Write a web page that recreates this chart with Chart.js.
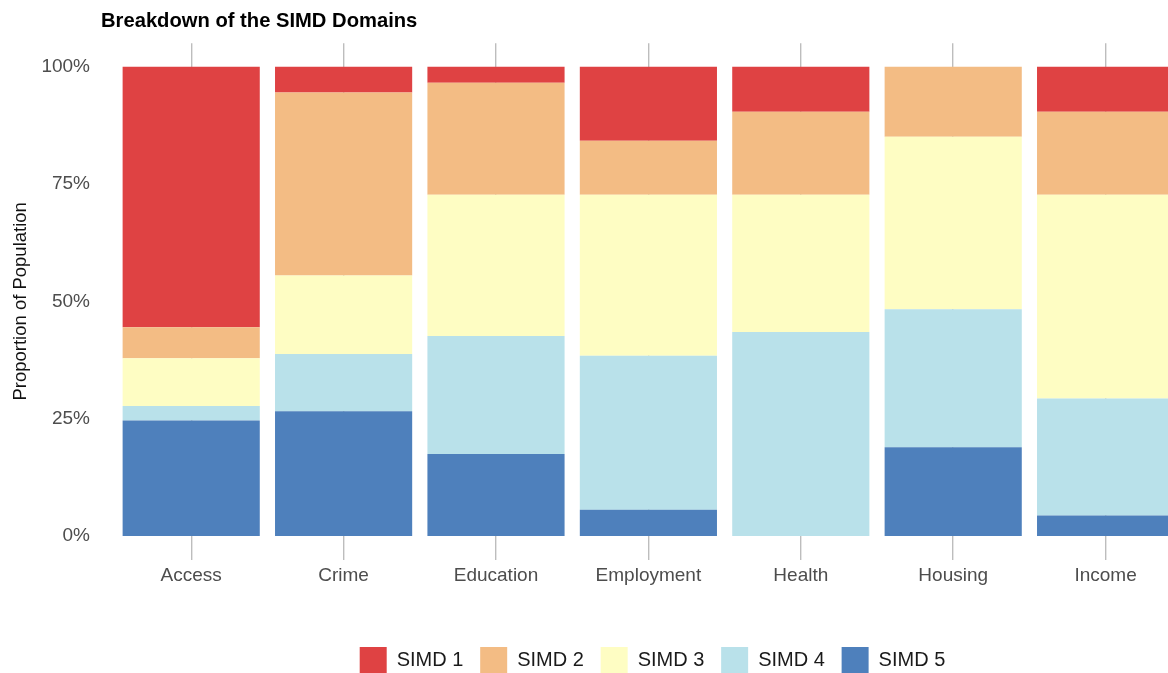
<!DOCTYPE html>
<html><head><meta charset="utf-8">
<script src="https://cdn.jsdelivr.net/npm/chart.js@4.4.1/dist/chart.umd.min.js"></script>
<style>
html,body{margin:0;padding:0;overflow:hidden;background:#fff;width:1168px;height:673px;}
#wrap{position:absolute;left:0;top:0;width:1200px;height:690px;}
</style></head><body>
<div id="wrap"><canvas id="c" width="1200" height="690"></canvas></div>
<script>
const categories = ['Access','Crime','Education','Employment','Health','Housing','Income'];
const seriesNames = ['SIMD 1','SIMD 2','SIMD 3','SIMD 4','SIMD 5'];
const simd1 = [55.5, 5.5, 3.4, 15.8, 9.6, 0, 9.6];
const simd2 = [6.6, 39.0, 23.9, 11.5, 17.7, 14.9, 17.7];
const simd3 = [10.2, 16.7, 30.1, 34.3, 29.2, 36.8, 43.4];
const simd4 = [3.1, 12.2, 25.1, 32.8, 43.5, 29.4, 24.9];
const simd5 = [24.6, 26.6, 17.5, 5.6, 0, 18.9, 4.4];
const yTicks = [0, 25, 50, 75, 100];
const colors = ['#DF4243', '#F3BC84', '#FEFDC3', '#B9E1EA', '#4E80BC'];

const FONT = '"Liberation Sans", Arial, Helvetica, sans-serif';
const seriesValues = [simd1, simd2, simd3, simd4, simd5];

// stack SIMD 5 at the bottom, SIMD 1 on top
const datasets = [];
for (let i = seriesNames.length - 1; i >= 0; i--) {
  datasets.push({
    label: seriesNames[i],
    data: seriesValues[i],
    backgroundColor: colors[i],
    borderWidth: 0,
    barPercentage: 0.9,
    categoryPercentage: 1.0
  });
}

const shiftPlugin = {
  id: 'shiftBoxes',
  afterLayout(chart) {
    if (chart.titleBlock) { chart.titleBlock.left = 101; chart.titleBlock.right = 1200; }
    if (chart.legend) { chart.legend.left = 0; chart.legend.right = 1305; }
  }
};

new Chart(document.getElementById('c'), {
  type: 'bar',
  data: { labels: categories, datasets: datasets },
  plugins: [shiftPlugin],
  options: {
    responsive: false,
    animation: false,
    devicePixelRatio: 1,
    layout: { padding: { left: 0, right: 18.2, top: 0, bottom: 6 } },
    plugins: {
      title: {
        display: true,
        text: 'Breakdown of the SIMD Domains',
        align: 'start',
        color: '#000',
        font: { family: FONT, size: 20.2, weight: 'bold' },
        padding: { top: 9.5, bottom: 9.5 }
      },
      legend: {
        display: true,
        position: 'bottom',
        reverse: true,
        labels: {
          boxWidth: 27,
          boxHeight: 27,
          padding: 16.8,
          color: '#1a1a1a',
          font: { family: FONT, size: 20 }
        }
      },
      tooltip: { enabled: false }
    },
    scales: {
      x: {
        stacked: true,
        grid: { offset: false, color: '#bdbdbd', lineWidth: 1.4, drawTicks: false },
        border: { display: false },
        ticks: { font: { family: FONT, size: 19 }, color: '#4d4d4d', padding: 5, maxRotation: 0, autoSkip: false },
        afterFit: s => { s.height = 70.7; }
      },
      y: {
        stacked: true,
        min: -5,
        max: 105,
        grid: { display: false },
        border: { display: false },
        afterBuildTicks: s => { s.ticks = yTicks.map(v => ({ value: v })); },
        ticks: { callback: v => v + '%', font: { family: FONT, size: 19 }, color: '#4d4d4d', padding: 17 },
        title: {
          display: true,
          text: 'Proportion of Population',
          color: '#111',
          font: { family: FONT, size: 18.5 },
          padding: { top: 9.4, bottom: 0 }
        },
        afterFit: s => { s.width = 115; }
      }
    }
  }
});
</script>
</body></html>
